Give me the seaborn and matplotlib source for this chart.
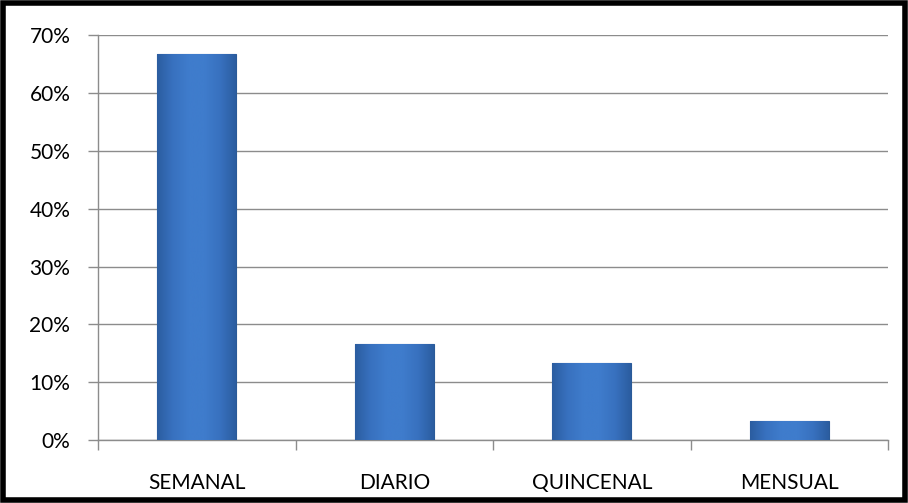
import numpy as np
import pandas as pd
import matplotlib
matplotlib.use('Agg')
import matplotlib.pyplot as plt
import seaborn as sns
from matplotlib.colors import LinearSegmentedColormap
from matplotlib.patches import Rectangle

# Datos
categorias = ['SEMANAL', 'DIARIO', 'QUINCENAL', 'MENSUAL']
porcentajes = [66.7, 16.7, 13.3, 3.3]
ticks_y = [0, 10, 20, 30, 40, 50, 60, 70]

df = pd.DataFrame({'frecuencia': categorias, 'pct': porcentajes})

sns.set_theme(style='white')
plt.rcParams['font.family'] = ['Lato', 'DejaVu Sans']

fig = plt.figure(figsize=(9.08, 5.03), dpi=100)
ax = fig.add_axes([0.108, 0.125, 0.870, 0.805])

sns.barplot(data=df, x='frecuencia', y='pct', color='#3f7ccc', width=0.4,
            saturation=1, ax=ax, zorder=3)

# degradado suave tipo Excel sobre cada barra
cmap = LinearSegmentedColormap.from_list('bev', ['#2b5da0', '#3871bf', '#3f7ccc', '#3f7ccc', '#3871bf', '#2b5da0'])
grad = np.linspace(0, 1, 256).reshape(1, -1)
for p in ax.patches:
    x0, y0 = p.get_x(), p.get_y()
    w, h = p.get_width(), p.get_height()
    im = ax.imshow(grad, cmap=cmap, extent=[x0, x0 + w, y0, y0 + h],
                   aspect='auto', zorder=4)
    im.set_clip_path(p)
    p.set_edgecolor('#2a5a98')
    p.set_linewidth(0.8)

ax.set_xlim(-0.5, len(categorias) - 0.5)
ax.set_ylim(0, 70)
ax.set_yticks(ticks_y)
ax.set_yticklabels([f'{t}%' for t in ticks_y])
ax.set_xlabel('')
ax.set_ylabel('')

ax.yaxis.grid(True, color='#8c8c8c', linewidth=1)
ax.set_axisbelow(True)

for s in ['top', 'right']:
    ax.spines[s].set_visible(False)
for s in ['left', 'bottom']:
    ax.spines[s].set_color('#8c8c8c')
    ax.spines[s].set_linewidth(1)

# ticks del eje x en los limites de categoria
ax.set_xticks(np.arange(-0.5, len(categorias), 1), minor=True)
ax.tick_params(axis='x', which='minor', bottom=True, length=7, color='#8c8c8c', width=1)
ax.tick_params(axis='x', which='major', bottom=False, labelsize=15, pad=18, colors='black')
ax.tick_params(axis='y', left=True, length=7, color='#8c8c8c', width=1, labelsize=15, pad=13, colors='black')

# marco negro exterior
fig.patches.append(Rectangle((0.003, 0.005), 0.994, 0.99, transform=fig.transFigure,
                             fill=False, edgecolor='black', linewidth=4))

fig.savefig('out.png', dpi=100)
